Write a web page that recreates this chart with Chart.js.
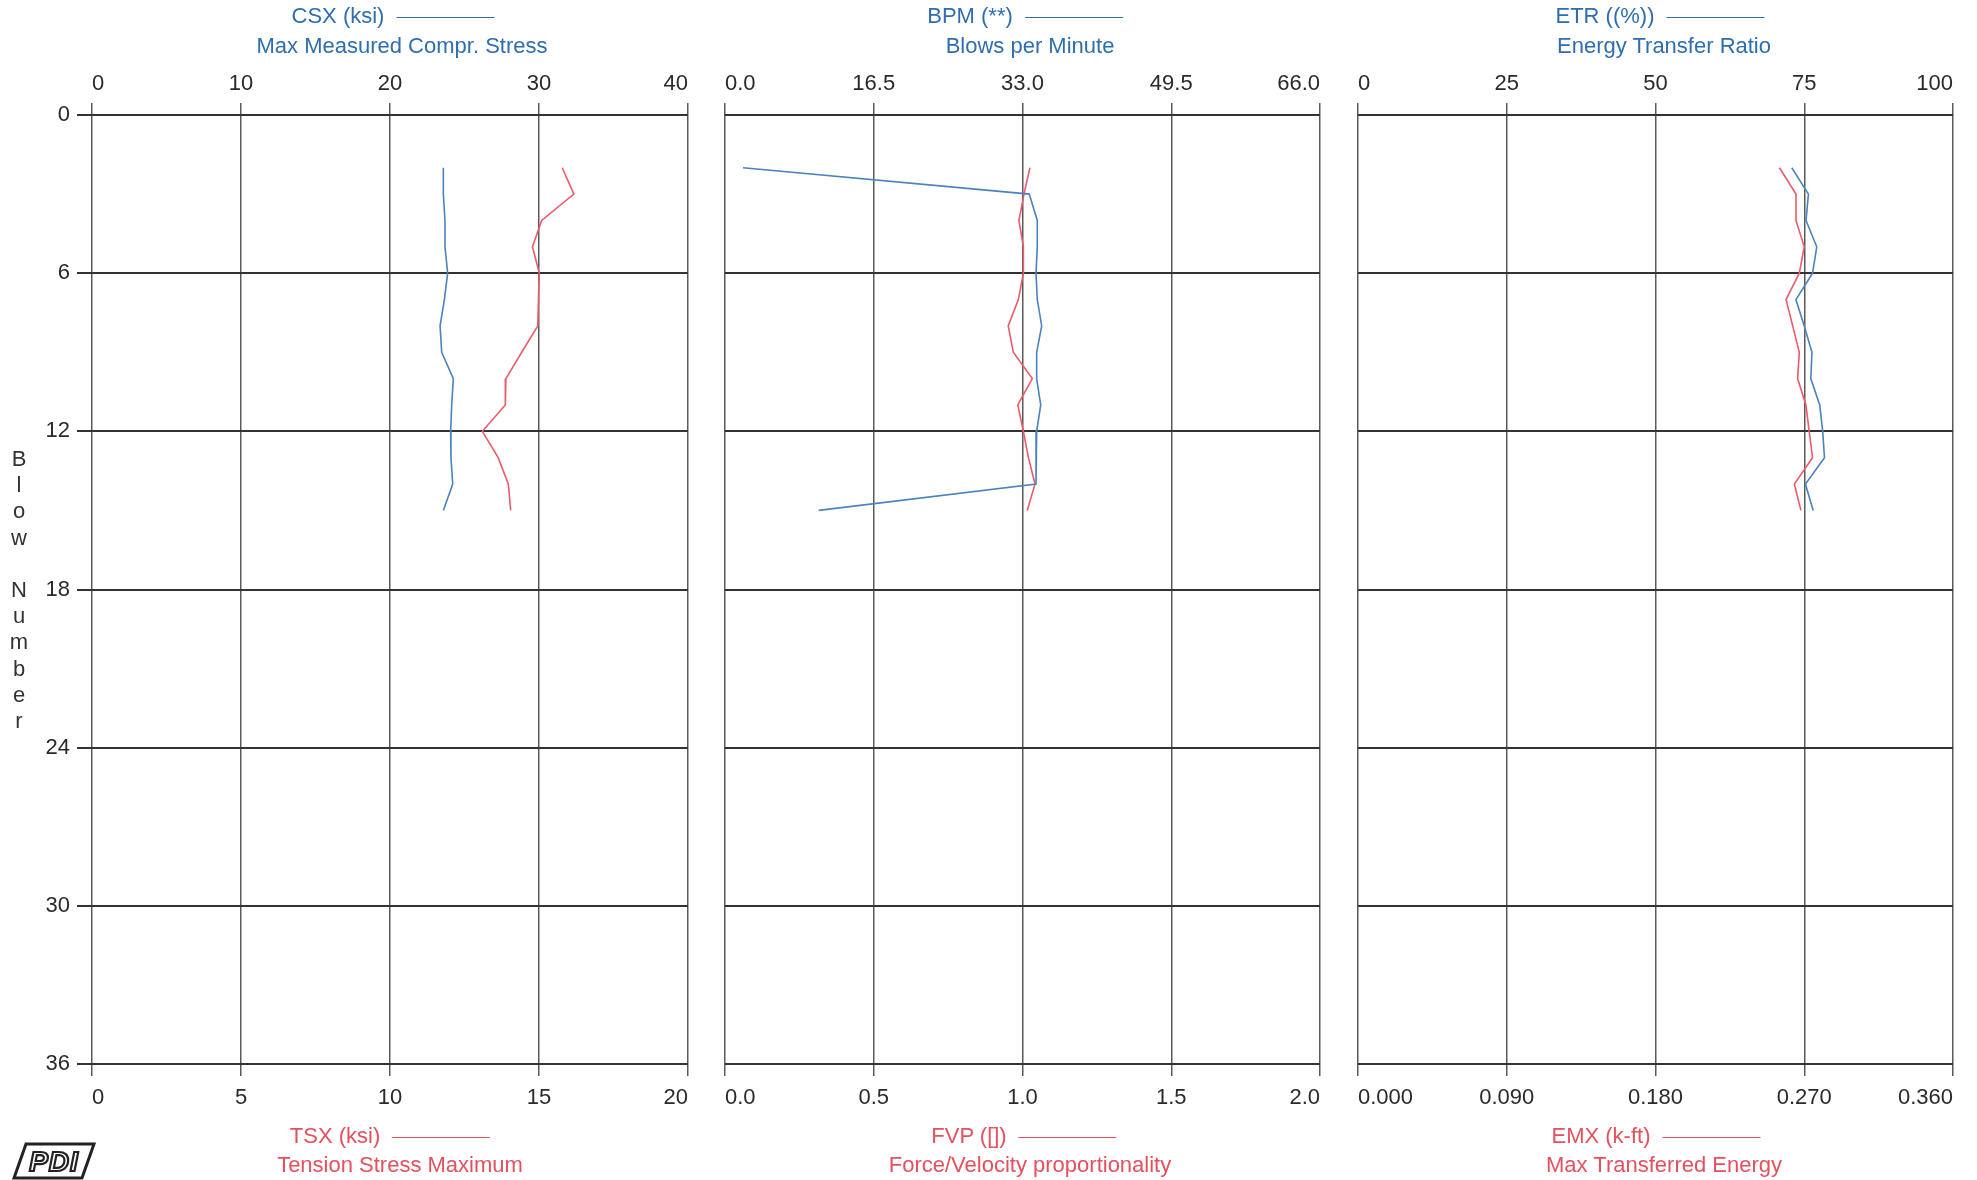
<!DOCTYPE html>
<html>
<head>
<meta charset="utf-8">
<script src="https://cdn.jsdelivr.net/npm/chart.js@4"></script>
<style>
    body { margin: 0; width: 1977px; height: 1180px; position: relative; overflow: hidden; background: #fff;
           font-family: "Liberation Sans", Arial, sans-serif; }
    canvas { position: absolute; top: 0; }
    .cap { position: absolute; font-size: 22px; line-height: 1; white-space: nowrap; transform: translate(-50%, -50%); }
    .cap .key { display: inline-block; width: 98px; border-top: 1.5px solid; vertical-align: middle; margin-left: 12px; }
    .blue { color: #2f6eae; }
    .red { color: #e5505d; }
    #ytitle { position: absolute; left: 5px; top: 446px; width: 28px; text-align: center; font-size: 22px;
              line-height: 26.2px; color: #333; }
    #ytitle span { display: block; height: 26.2px; }
    #logo { position: absolute; left: 12px; top: 1142px; }
</style>
</head>
<body>
<canvas id="p1" width="706" height="1180" style="left:0"></canvas>
<canvas id="p2" width="646" height="1180" style="left:700px"></canvas>
<canvas id="p3" width="680" height="1180" style="left:1320px"></canvas>

<div class="cap blue" style="left:393px;top:16px">CSX (ksi)<span class="key"></span></div>
<div class="cap blue" style="left:402px;top:46px">Max Measured Compr. Stress</div>
<div class="cap blue" style="left:1025px;top:16px">BPM (**)<span class="key"></span></div>
<div class="cap blue" style="left:1030px;top:46px">Blows per Minute</div>
<div class="cap blue" style="left:1660px;top:16px">ETR ((%))<span class="key"></span></div>
<div class="cap blue" style="left:1664px;top:46px">Energy Transfer Ratio</div>

<div class="cap red" style="left:390px;top:1136px">TSX (ksi)<span class="key"></span></div>
<div class="cap red" style="left:400px;top:1165px">Tension Stress Maximum</div>
<div class="cap red" style="left:1024px;top:1136px">FVP ([])<span class="key"></span></div>
<div class="cap red" style="left:1030px;top:1165px">Force/Velocity proportionality</div>
<div class="cap red" style="left:1656px;top:1136px">EMX (k-ft)<span class="key"></span></div>
<div class="cap red" style="left:1664px;top:1165px">Max Transferred Energy</div>

<div id="ytitle"><span>B</span><span>l</span><span>o</span><span>w</span><span>&nbsp;</span><span>N</span><span>u</span><span>m</span><span>b</span><span>e</span><span>r</span></div>

<svg id="logo" width="84" height="38" viewBox="0 0 84 38">
    <polygon points="14,2 82,2 70,36 2,36" fill="none" stroke="#222" stroke-width="3"/>
    <text x="42" y="29" text-anchor="middle" font-family="Liberation Sans, Arial" font-weight="bold" font-style="italic"
          font-size="28" fill="#fff" stroke="#222" stroke-width="2.2" letter-spacing="1">PDI</text>
</svg>

<script>
/* blow-by-blow readings, blows 2..15 */
const blows = [2, 3, 4, 5, 6, 7, 8, 9, 10, 11, 12, 13, 14, 15];
const csx = [23.58, 23.58, 23.69, 23.69, 23.87, 23.65, 23.36, 23.47, 24.25, 24.14, 24.07, 24.09, 24.21, 23.58];
const tsx = [15.78, 16.17, 15.09, 14.78, 15.01, 14.98, 14.96, 14.42, 13.89, 13.87, 13.10, 13.63, 13.97, 14.05];
const bpm = [2.0, 33.75, 34.64, 34.64, 34.5, 34.64, 35.13, 34.57, 34.57, 35.02, 34.57, 34.5, 34.5, 10.4];
const fvp = [1.025, 1.005, 0.988, 1.003, 1.003, 0.986, 0.952, 0.969, 1.033, 0.984, 1.003, 1.02, 1.042, 1.016];
const etr = [72.9, 75.7, 75.3, 77.1, 76.4, 73.6, 75.0, 76.3, 76.1, 77.6, 78.1, 78.4, 75.2, 76.5];
const emx = [0.255, 0.265, 0.265, 0.270, 0.267, 0.259, 0.263, 0.267, 0.266, 0.271, 0.273, 0.275, 0.264, 0.268];

/* axis ticks */
const blowTicks = [0, 6, 12, 18, 24, 30, 36];
const csxTicks = [0, 10, 20, 30, 40];
const tsxTicks = [0, 5, 10, 15, 20];
const bpmTicks = [0, 16.5, 33, 49.5, 66];
const fvpTicks = [0, 0.5, 1, 1.5, 2];
const etrTicks = [0, 25, 50, 75, 100];
const emxTicks = [0, 0.09, 0.18, 0.27, 0.36];

const FONT = '"Liberation Sans", Arial, sans-serif';
const BLUE = '#4a83bf', RED = '#ec5b6b';
const TOP_H = 115, BOT_H = 116;

const pts = (xs) => xs.map((v, i) => ({ x: v, y: blows[i] }));

function xScale(pos, ticks, digits, onArea) {
    return {
        type: 'linear', position: pos,
        min: ticks[0], max: ticks[ticks.length - 1],
        afterBuildTicks: (s) => { s.ticks = ticks.map((v) => ({ value: v })); },
        afterFit: (s) => { s.height = pos === 'top' ? TOP_H : BOT_H; },
        grid: { color: '#5a5a5a', lineWidth: 1.5, drawOnChartArea: onArea, drawTicks: true, tickLength: 12 },
        border: { display: false },
        ticks: {
            color: '#2a2a2a', font: { size: 22, family: FONT }, padding: pos === 'top' ? 6 : 9,
            align: 'inner', maxRotation: 0, autoSkip: false, callback: (v) => Number(v).toFixed(digits),
        },
    };
}

function yScale(labels) {
    return {
        type: 'linear', reverse: true, min: 0, max: 36,
        afterBuildTicks: (s) => { s.ticks = blowTicks.map((v) => ({ value: v })); },
        afterFit: (s) => { s.width = labels ? 92 : 0; },
        grid: { color: '#333', lineWidth: 2, drawTicks: labels, tickLength: 15 },
        border: { display: false },
        ticks: { display: labels, color: '#2a2a2a', font: { size: 22, family: FONT }, padding: 7 },
    };
}

function panel(id, top, bottom, padL, padR, labels) {
    new Chart(document.getElementById(id), {
        type: 'scatter',
        data: {
            datasets: [
                { data: pts(top.data), xAxisID: 'x', borderColor: BLUE },
                { data: pts(bottom.data), xAxisID: 'x2', borderColor: RED },
            ],
        },
        options: {
            responsive: false, animation: false, devicePixelRatio: 1,
            layout: { padding: { left: padL, right: padR, top: 0, bottom: 0 }, autoPadding: false },
            elements: { line: { borderWidth: 1.6, tension: 0 }, point: { radius: 0 } },
            datasets: { scatter: { showLine: true } },
            plugins: { legend: { display: false }, tooltip: { enabled: false } },
            scales: {
                x: xScale('top', top.ticks, top.digits, true),
                x2: xScale('bottom', bottom.ticks, bottom.digits, false),
                y: yScale(labels),
            },
        },
    });
}

panel('p1', { data: csx, ticks: csxTicks, digits: 0 }, { data: tsx, ticks: tsxTicks, digits: 0 }, 0, 18, true);
panel('p2', { data: bpm, ticks: bpmTicks, digits: 1 }, { data: fvp, ticks: fvpTicks, digits: 1 }, 25, 26, false);
panel('p3', { data: etr, ticks: etrTicks, digits: 0 }, { data: emx, ticks: emxTicks, digits: 3 }, 38, 47, false);
</script>
</body>
</html>
